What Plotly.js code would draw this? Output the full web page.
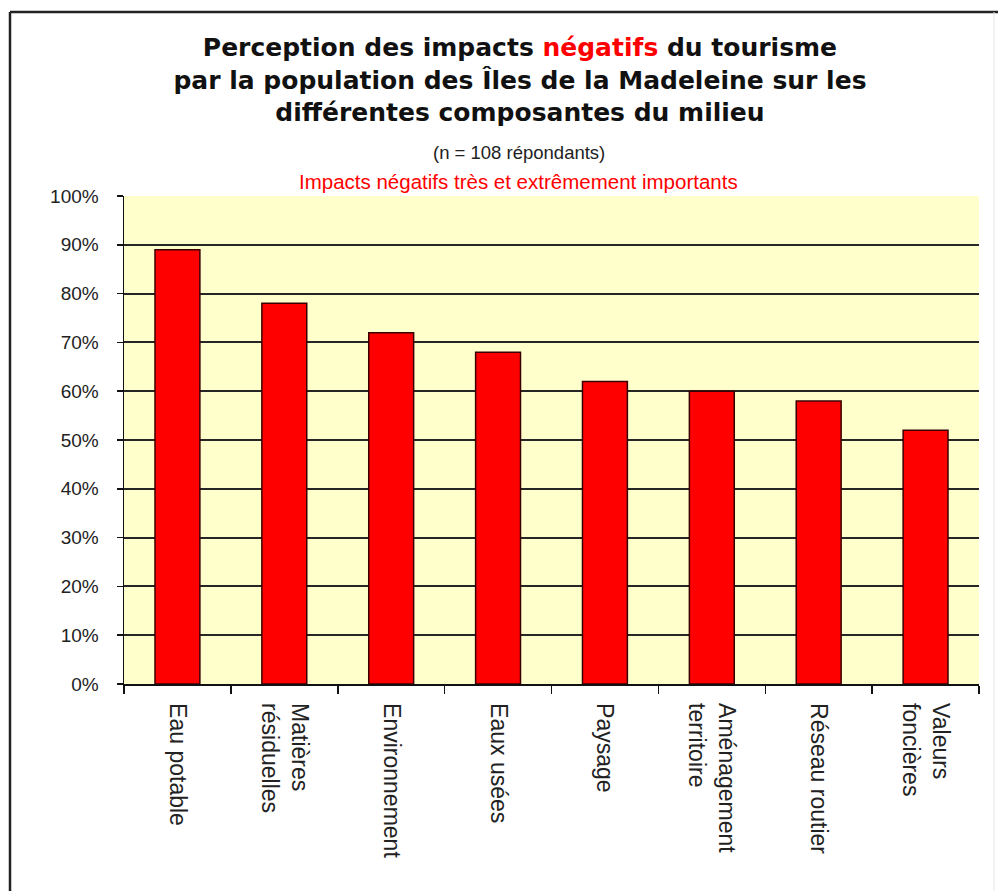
<!DOCTYPE html>
<html>
<head>
<meta charset="utf-8">
<script src="https://cdn.plot.ly/plotly-3.0.1.min.js"></script>
<style>
html,body{margin:0;padding:0;background:#fff;}
#chart{width:998px;height:891px;}
</style>
</head>
<body>
<div id="chart"></div>
<script>
const categories = ["Eau potable", "Matières<br>résiduelles", "Environnement", "Eaux usées", "Paysage", "Aménagement<br>territoire", "Réseau routier", "Valeurs<br>foncières"];
const values = [89, 78, 72, 68, 62, 60, 58, 52];
const yTickVals = [0, 10, 20, 30, 40, 50, 60, 70, 80, 90, 100];

const titleText = "Perception des impacts <span style='color:#ff0000'>négatifs</span> du tourisme<br>par la population des Îles de la Madeleine sur les<br>différentes composantes du milieu";
const subtitle1 = "(n = 108 répondants)";
const subtitle2 = "Impacts négatifs très et extrêmement importants";

const trace = {
  type: "bar",
  x: categories,
  y: values,
  marker: {color: "#ff0000", line: {color: "#3a0000", width: 1.5}},
  hoverinfo: "x+y"
};

const L = 124, R = 19, T = 196, B = 207;
const pw = 998 - L - R, ph = 891 - T - B;
const px = X => (X - L) / pw;
const py = Y => (891 - B - Y) / ph;

const layout = {
  width: 998, height: 891,
  margin: {l: L, r: R, t: T, b: B, pad: 0},
  paper_bgcolor: "#ffffff",
  plot_bgcolor: "#ffffcc",
  showlegend: false,
  bargap: 0.58,
  title: {
    text: titleText,
    font: {family: "DejaVu Sans", size: 25, color: "#111", weight: "bold"},
    x: 0.521, xanchor: "center", xref: "container",
    y: 1 - 56/891, yanchor: "top", yref: "container"
  },
  xaxis: {
    type: "category",
    showline: true, linecolor: "#111", linewidth: 1.5,
    ticks: "outside", tickson: "boundaries", ticklen: 8, tickwidth: 1.5, tickcolor: "#111",
    tickangle: 90,
    tickfont: {family: "Liberation Sans, Arial", size: 23, color: "#222"},
    ticklabelstandoff: 13,
    showgrid: false, zeroline: false,
    range: [-0.5, 7.5], fixedrange: true
  },
  yaxis: {
    range: [0, 100],
    tickmode: "array", tickvals: yTickVals, ticktext: yTickVals.map(v => v + "%"),
    showline: true, linecolor: "#111", linewidth: 1.5,
    ticks: "outside", ticklen: 6, tickwidth: 1.5, tickcolor: "#111",
    tickfont: {family: "Liberation Sans, Arial", size: 19, color: "#222"},
    ticklabelstandoff: 14,
    showgrid: true, gridcolor: "#262626", gridwidth: 2,
    zeroline: false, fixedrange: true
  },
  annotations: [
    {text: subtitle1, xref: "paper", yref: "paper", x: px(519), y: py(152), xanchor: "center", yanchor: "middle",
     showarrow: false, font: {family: "Liberation Sans, Arial", size: 18.5, color: "#222"}},
    {text: subtitle2, xref: "paper", yref: "paper", x: px(518), y: py(182), xanchor: "center", yanchor: "middle",
     showarrow: false, font: {family: "Liberation Sans, Arial", size: 20.5, color: "#ff0000"}}
  ],
  shapes: [
    {type: "line", xref: "paper", yref: "paper", x0: px(10), x1: px(10), y0: py(12), y1: py(891), line: {color: "#222", width: 2.5}},
    {type: "line", xref: "paper", yref: "paper", x0: px(10), x1: px(998), y0: py(12), y1: py(12), line: {color: "#222", width: 2.5}},
    {type: "line", xref: "paper", yref: "paper", x0: px(994), x1: px(994), y0: py(12), y1: py(891), line: {color: "#e4e4e4", width: 1}}
  ]
};

Plotly.newPlot("chart", [trace], layout, {displayModeBar: false, staticPlot: true});
</script>
</body>
</html>
